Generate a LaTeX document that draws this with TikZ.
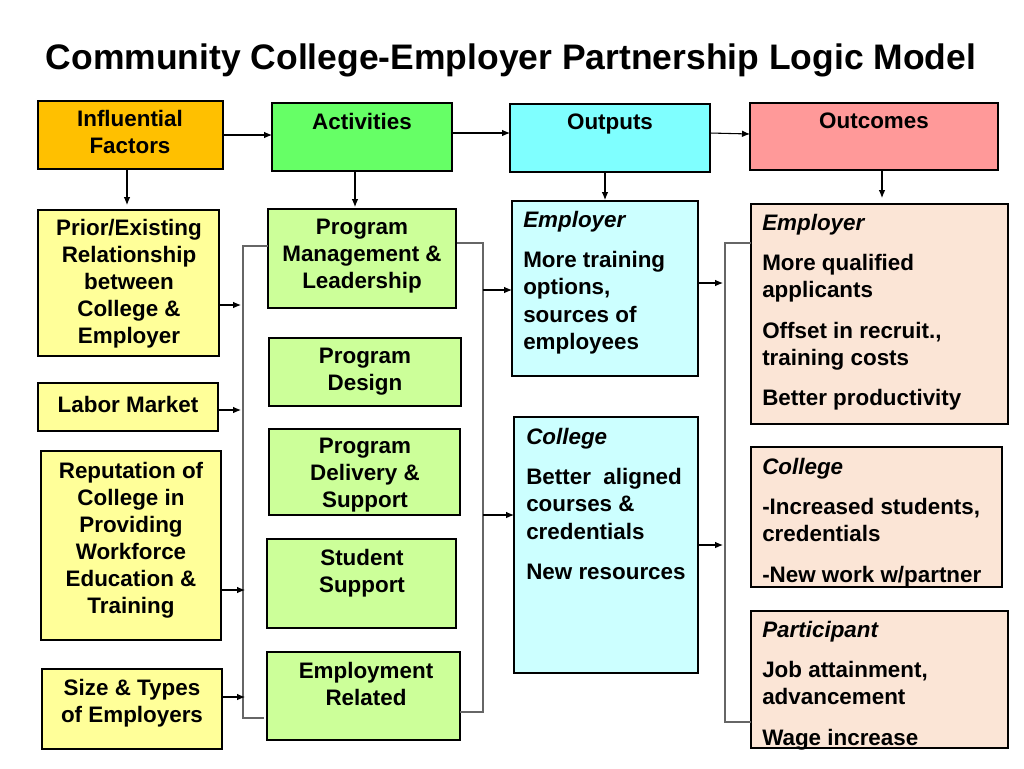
\documentclass[tikz,border=0pt]{standalone}
\usepackage{fontspec}
\setmainfont{Liberation Sans}
\usetikzlibrary{arrows.meta}
\definecolor{hdrA}{HTML}{FFC000}
\definecolor{hdrB}{HTML}{66FF66}
\definecolor{hdrC}{HTML}{7FFFFF}
\definecolor{hdrD}{HTML}{FF9999}
\definecolor{cYel}{HTML}{FFFF99}
\definecolor{cGrn}{HTML}{CCFF99}
\definecolor{cCyn}{HTML}{CCFFFF}
\definecolor{cPch}{HTML}{FBE5D6}
\tikzset{
 bx/.style={draw=black,line width=1.2pt,inner sep=0pt,outer sep=0pt},
 txt/.style={font=\fontsize{16.8}{20.3}\selectfont\bfseries,align=center,inner sep=0pt},
 ltxt/.style={font=\fontsize{16.8}{20.3}\selectfont\bfseries,align=left,anchor=north west,inner sep=0pt},
 arr/.style={-{Latex[length=6pt,width=5pt]},line width=0.8pt},
 brk/.style={draw=black!60,line width=1pt}
}
\newcommand{\bxn}[6]{\fill[#2] (#3,#4) rectangle (#5,#6); \draw[bx] (#3,#4) rectangle (#5,#6); \coordinate (#1) at ({(#3+#5)/2},{(#4+#6)/2});}
\begin{document}
\begin{tikzpicture}[x=0.75pt,y=-0.75pt]
\useasboundingbox (0,0) rectangle (1024,768);
\node[font=\fontsize{26.6}{30}\selectfont\bfseries] (title) at (511,60) {Community College-Employer Partnership Logic Model};
% headers
\bxn{hA}{hdrA}{38}{101}{223}{169}
\bxn{hB}{hdrB}{272}{103}{452}{171}
\bxn{hC}{hdrC}{510}{104}{710}{172}
\bxn{hD}{hdrD}{750}{103}{998}{170}
\node[txt,anchor=north] (tA) at (130,110) {Influential\\Factors};
\node[txt,anchor=north] (tB) at (362,113) {Activities};
\node[txt,anchor=north] (tC) at (610,114) {Outputs};
\node[txt,anchor=north] (tD) at (874,113) {Outcomes};
\draw[arr] (223,135) -- (272,135);
\draw[arr] (452,133) -- (510,133);
\draw[arr] (710,133) -- (750,134);
\draw[arr] (127,169) -- (127,205);
\draw[arr] (355,171) -- (355,207);
\draw[arr] (605,172) -- (605,200);
\draw[arr] (882,170) -- (882,198);
% column 1
\bxn{a1}{cYel}{38}{210}{219}{356}
\bxn{a2}{cYel}{38}{383}{218}{431}
\bxn{a3}{cYel}{41}{451}{221}{640}
\bxn{a4}{cYel}{42}{669}{222}{749}
\node[txt] at (129,284) {Prior/Existing\\Relationship\\between\\College \&\\Employer};
\node[txt] at (128,404) {Labor Market};
\node[txt] at (131,540) {Reputation of\\College in\\Providing\\Workforce\\Education \&\\Training};
\node[txt] at (132,703) {Size \& Types\\of Employers};
% column 2
\bxn{b1}{cGrn}{268}{209}{456}{308}
\bxn{b2}{cGrn}{269}{338}{461}{406}
\bxn{b3}{cGrn}{269}{429}{460}{515}
\bxn{b4}{cGrn}{267}{539}{456}{628}
\bxn{b5}{cGrn}{267}{652}{460}{740}
\node[txt,anchor=north] at (362,219) {Program\\Management \&\\Leadership};
\node[txt,anchor=north] at (365,348) {Program\\Design};
\node[txt,anchor=north] at (365,438) {Program\\Delivery \&\\Support};
\node[txt,anchor=north] at (362,549) {Student\\Support};
\node[txt,anchor=north] at (366,662) {Employment\\Related};
% column 3
\bxn{c1}{cCyn}{512}{201}{698}{376}
\bxn{c2}{cCyn}{514}{417}{698}{673}
\node[ltxt] at (523,211) {\itshape Employer\\[10pt]More training\\options,\\sources of\\employees};
\node[ltxt] at (526,428) {\itshape College\\[10pt]Better\ \ aligned\\courses \&\\credentials\\[10pt]New resources};
% column 4
\bxn{d1}{cPch}{751}{204}{1008}{424}
\bxn{d2}{cPch}{751}{447}{1002}{587}
\bxn{d3}{cPch}{751}{611}{1008}{748}
\node[ltxt] at (762,214) {\itshape Employer\\[10pt]More qualified\\applicants\\[10pt]Offset in recruit.,\\training costs\\[10pt]Better productivity};
\node[ltxt] at (762,458) {\itshape College\\[10pt]-Increased students,\\credentials\\[10pt]-New work w/partner};
\node[ltxt] at (762,621) {\itshape Participant\\[10pt]Job attainment,\\advancement\\[10pt]Wage increase};
% bracket 1
\draw[brk] (268,246) -- (243,246) -- (243,718) -- (264,718);
\draw[arr] (219,305) -- (241,305);
\draw[arr] (218,410) -- (241,410);
\draw[arr] (221,590) -- (245,590);
\draw[arr] (222,697) -- (245,697);
% bracket 2
\draw[brk] (457,243) -- (483,243) -- (483,712) -- (460,712);
\draw[arr] (483,290) -- (512,290);
\draw[arr] (483,515) -- (514,515);
% bracket 3
\draw[brk] (751,243) -- (725,243) -- (725,722) -- (751,722);
\draw[arr] (698,283) -- (723,283);
\draw[arr] (698,545) -- (723,545);
\end{tikzpicture}
\end{document}
